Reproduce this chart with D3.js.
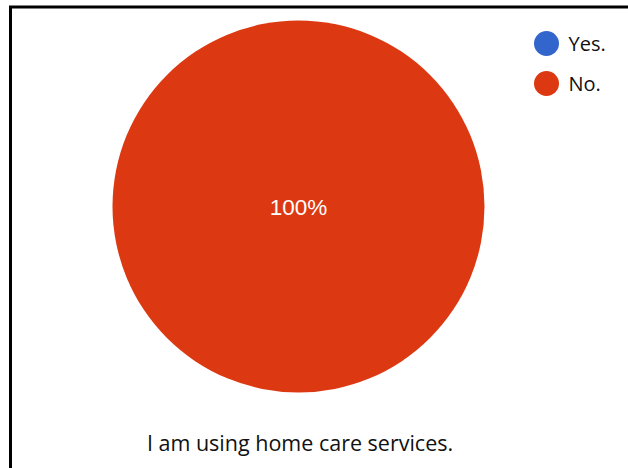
<!DOCTYPE html>
<html lang="en">
<head>
    <meta charset="UTF-8">
    <title>Home care services pie</title>
    <style>
        body { margin: 0; background: #fff; }
        svg text { font-family: "Open Sans", "Noto Sans", sans-serif; }
    </style>
    <script src="https://d3js.org/d3.v7.min.js"></script>
</head>
<body>
    <script>
        // chart data
        const labels = ['Yes.', 'No.'];
        const values = [0, 100];
        const colors = ['#3366cc', '#dc3912'];
        const caption = 'I am using home care services.';

        const width = 628;
        const height = 468;
        const cx = 298.5, cy = 206.5, radius = 186;

        const svg = d3.select('body').append('svg')
            .attr('width', width)
            .attr('height', height);

        // frame (only top + left edges are visible in the crop)
        svg.append('path')
            .attr('d', `M10.5,${height} V7 H${width}`)
            .attr('fill', 'none')
            .attr('stroke', '#000')
            .attr('stroke-width', 3);

        const color = d3.scaleOrdinal().domain(labels).range(colors);
        const total = d3.sum(values);

        const pie = d3.pie().sort(null).value(d => d.value);
        const arcs = pie(labels.map((l, i) => ({ label: l, value: values[i] })));
        const arc = d3.arc().innerRadius(0).outerRadius(radius);

        const g = svg.append('g').attr('transform', `translate(${cx},${cy})`);

        g.selectAll('path.slice')
            .data(arcs.filter(d => d.data.value > 0))
            .enter().append('path')
            .attr('class', 'slice')
            .attr('d', arc)
            .attr('fill', d => color(d.data.label));

        // percentage labels; a full slice gets its label in the centre
        g.selectAll('text.pct')
            .data(arcs.filter(d => d.data.value > 0))
            .enter().append('text')
            .attr('class', 'pct')
            .attr('transform', d => {
                if (d.endAngle - d.startAngle >= 2 * Math.PI - 1e-6) return 'translate(0,8.5)';
                const c = d3.arc().innerRadius(radius * 0.5).outerRadius(radius).centroid(d);
                return `translate(${c[0]},${c[1] + 8.5})`;
            })
            .attr('text-anchor', 'middle')
            .style('font-family', '"Liberation Sans", Arial, sans-serif')
            .style('font-size', '22.5px')
            .attr('fill', '#fff')
            .text(d => Math.round(d.data.value / total * 100) + '%');

        // legend
        const legend = svg.append('g').attr('transform', 'translate(546.5,43.5)');
        const item = legend.selectAll('g')
            .data(labels)
            .enter().append('g')
            .attr('transform', (d, i) => `translate(0,${i * 40})`);
        item.append('circle')
            .attr('r', 12.5)
            .attr('fill', d => color(d));
        item.append('text')
            .attr('x', 22)
            .attr('y', 7)
            .style('font-size', '20px')
            .attr('fill', '#111')
            .text(d => d);

        // caption
        svg.append('text')
            .attr('x', 300)
            .attr('y', 450.5)
            .attr('text-anchor', 'middle')
            .style('font-size', '21.5px')
            .attr('fill', '#111')
            .text(caption);
    </script>
</body>
</html>
